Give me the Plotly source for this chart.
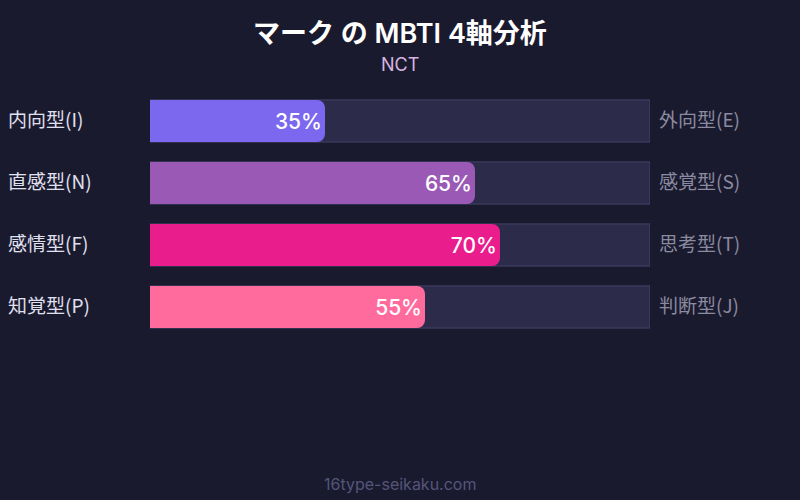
import plotly.graph_objects as go

# 4 axes of MBTI, value = share of the left-side type
left_labels = ["内向型(I)", "直感型(N)", "感情型(F)", "知覚型(P)"]
right_labels = ["外向型(E)", "感覚型(S)", "思考型(T)", "判断型(J)"]
values = [35, 65, 70, 55]
axes = ["EI", "NS", "FT", "PJ"]

bar_colors = ["#7B68EE", "#9B59B6", "#E91E8C", "#FF6B9D"]
bg = "#1A1A2E"
font_family = "Inter, 'Noto Sans CJK JP', sans-serif"
jp_family = "'Noto Sans CJK JP', sans-serif"

fig = go.Figure()

# background track (full 100%)
fig.add_trace(go.Bar(
    y=axes, x=[100] * len(axes), orientation="h",
    marker=dict(color="#2D2B4A", line=dict(color="#45436A", width=1)),
    width=0.68, hoverinfo="skip", showlegend=False,
))

# value bars on an overlaid axis so they sit on top and can be rounded
fig.add_trace(go.Bar(
    y=axes, x=values, orientation="h",
    marker=dict(color=bar_colors, cornerradius=8, line=dict(width=0)),
    width=0.68,
    text=[f"{v}%" for v in values],
    textposition="inside", insidetextanchor="end",
    textfont=dict(color="white", size=21, family=font_family, weight=500),
    showlegend=False,
    xaxis="x", yaxis="y2",
))

for ax, lt, rt in zip(axes, left_labels, right_labels):
    fig.add_annotation(x=-0.288, xref="paper", y=ax, yref="y", text=lt,
                       showarrow=False, xanchor="left", yshift=3,
                       font=dict(size=19, color="#E0E0F0", family=jp_family))
    fig.add_annotation(x=1.014, xref="paper", y=ax, yref="y", text=rt,
                       showarrow=False, xanchor="left", yshift=3,
                       font=dict(size=19, color="#8A8AA0", family=jp_family))

plot_h = 500 - 90 - 162


def py(pix):
    # convert page y pixel to paper coordinate
    return (500 - 162 - pix) / plot_h


fig.add_annotation(x=0.5, xref="paper", y=py(33), yref="paper", yanchor="middle",
                   text="マーク の MBTI 4軸分析", showarrow=False,
                   font=dict(size=27, color="white", family=font_family, weight=600))
fig.add_annotation(x=0.5, xref="paper", y=py(64), yref="paper", yanchor="middle",
                   text="NCT", showarrow=False,
                   font=dict(size=18, color="#D8B4E2", family=font_family))
fig.add_annotation(x=0.5, xref="paper", y=py(484), yref="paper", yanchor="middle",
                   text="16type-seikaku.com", showarrow=False,
                   font=dict(size=16, color="#55557A", family=font_family))

fig.update_layout(
    width=800, height=500,
    paper_bgcolor=bg, plot_bgcolor=bg,
    margin=dict(l=150, r=150, t=90, b=162),
    barmode="group",
    xaxis=dict(range=[0, 100], visible=False, fixedrange=True),
    yaxis=dict(autorange="reversed", visible=False, fixedrange=True),
    yaxis2=dict(autorange="reversed", visible=False, fixedrange=True,
                overlaying="y", matches="y"),
    font=dict(family=font_family),
)

fig.write_html("out.html", config={"displayModeBar": False},
               post_script="document.body.style.margin='0';")
